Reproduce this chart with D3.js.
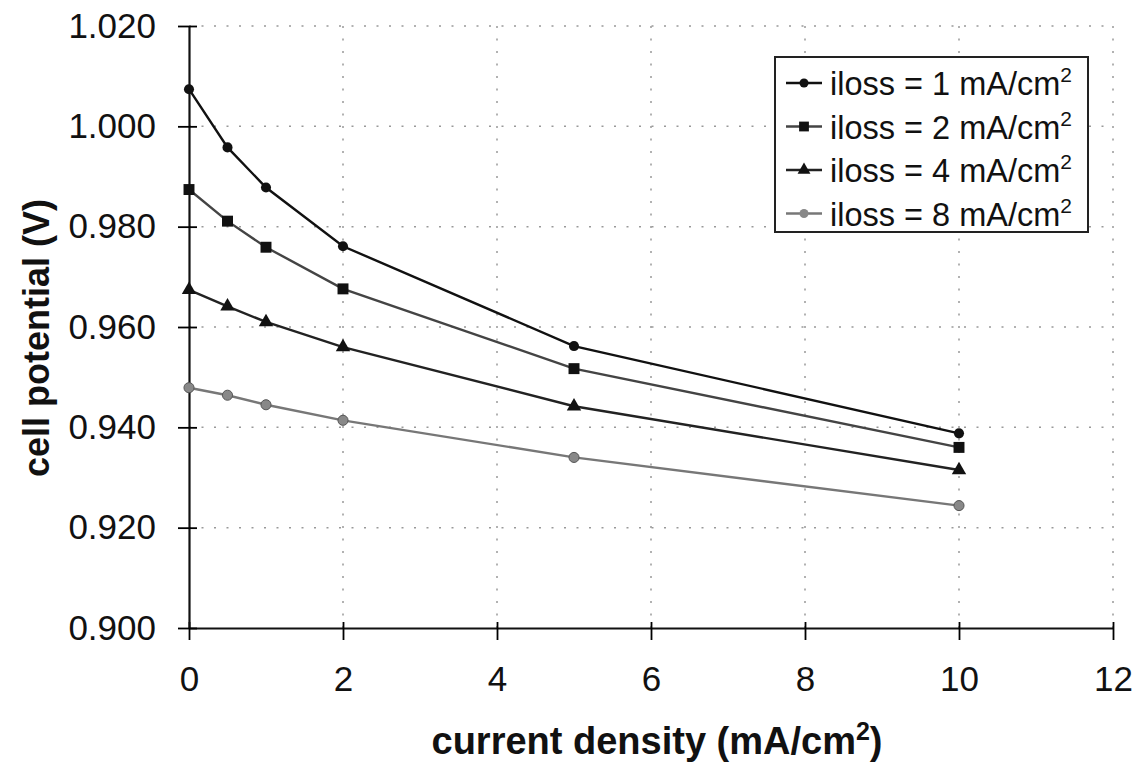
<!DOCTYPE html>
<html>
<head>
<meta charset="utf-8">
<script src="https://cdn.jsdelivr.net/npm/d3@7"></script>
<style>
  body { margin: 0; background: #fff; }
  text { font-family: "Liberation Sans", Arial, Helvetica, sans-serif; }
</style>
</head>
<body>
<div id="chart"></div>
<script>
// data
var xValues = [0, 0.5, 1, 2, 5, 10];
var iloss1 = [1.0074, 0.9958, 0.9878, 0.9761, 0.9562, 0.9388];
var iloss2 = [0.9874, 0.9811, 0.9759, 0.9676, 0.9517, 0.9360];
var iloss4 = [0.9674, 0.9641, 0.9610, 0.9560, 0.9442, 0.9315];
var iloss8 = [0.9479, 0.9464, 0.9445, 0.9414, 0.9340, 0.9244];
var seriesNames = ["iloss = 1 mA/cm", "iloss = 2 mA/cm", "iloss = 4 mA/cm", "iloss = 8 mA/cm"];
var xTicks = [0, 2, 4, 6, 8, 10, 12];
var yTicks = [0.900, 0.920, 0.940, 0.960, 0.980, 1.000, 1.020];

var W = 1141, H = 769;
var margin = {top: 26, right: 28, bottom: 141, left: 189};
var width = W - margin.left - margin.right,
    height = H - margin.top - margin.bottom;

var svg = d3.select("#chart")
  .append("svg")
    .attr("width", W)
    .attr("height", H)
  .append("g")
    .attr("transform", "translate(" + margin.left + "," + margin.top + ")");

var x = d3.scaleLinear().domain([0, 12]).range([0, width]);
var y = d3.scaleLinear().domain([0.9, 1.02]).range([height, 0]);

// dotted grid
svg.append("g")
  .selectAll("line.hg")
  .data(yTicks.slice(1))
  .enter().append("line")
    .attr("x1", 0).attr("x2", width)
    .attr("y1", function(d) { return y(d); })
    .attr("y2", function(d) { return y(d); })
    .attr("stroke", "#999")
    .attr("stroke-width", 1.5)
    .attr("stroke-dasharray", "2,10.5");

svg.append("g")
  .selectAll("line.vg")
  .data(xTicks.slice(1))
  .enter().append("line")
    .attr("y1", 0).attr("y2", height)
    .attr("x1", function(d) { return x(d); })
    .attr("x2", function(d) { return x(d); })
    .attr("stroke", "#999")
    .attr("stroke-width", 1.5)
    .attr("stroke-dasharray", "2,10.5");

// axes
var xAxis = svg.append("g")
  .attr("transform", "translate(0," + height + ")")
  .call(d3.axisBottom(x).tickValues(xTicks).tickFormat(d3.format("d"))
    .tickSizeInner(12).tickSizeOuter(0).tickPadding(26));
xAxis.selectAll(".tick line").attr("y1", -6).attr("stroke-width", 1.8);

var yAxis = svg.append("g")
  .call(d3.axisLeft(y).tickValues(yTicks).tickFormat(d3.format(".3f"))
    .tickSizeInner(11).tickSizeOuter(0).tickPadding(22));
yAxis.selectAll(".tick line").attr("x1", 8).attr("stroke-width", 1.8);

svg.selectAll(".domain").attr("stroke", "#111").attr("stroke-width", 2.2);
svg.selectAll(".tick text")
  .style("font-size", "35px")
  .attr("fill", "#111");

// series
var allSeries = [iloss1, iloss2, iloss4, iloss8];
var lineColors = ["#111", "#444", "#222", "#777"];
var markerColors = ["#111", "#111", "#111", "#888"];
var markerTypes = [d3.symbolCircle, d3.symbolSquare, d3.symbolTriangle, d3.symbolCircle];
var markerSizes = [80, 120, 90, 80];

var line = d3.line()
  .x(function(d, i) { return x(xValues[i]); })
  .y(function(d) { return y(d); });

allSeries.forEach(function(s, k) {
  svg.append("path")
    .datum(s)
    .attr("fill", "none")
    .attr("stroke", lineColors[k])
    .attr("stroke-width", 2.4)
    .attr("d", line);

  svg.selectAll("mk" + k)
    .data(s)
    .enter().append("path")
      .attr("transform", function(d, i) { return "translate(" + x(xValues[i]) + "," + y(d) + ")"; })
      .attr("d", d3.symbol().type(markerTypes[k]).size(markerSizes[k]))
      .attr("fill", markerColors[k])
      .attr("stroke", k == 3 ? "#555" : "none")
      .attr("stroke-width", 1);
});

// legend
var legend = svg.append("g")
  .attr("transform", "translate(" + (775 - margin.left) + "," + (57 - margin.top) + ")");

legend.append("rect")
  .attr("width", 313)
  .attr("height", 175)
  .attr("fill", "#fff")
  .attr("stroke", "#222")
  .attr("stroke-width", 2);

seriesNames.forEach(function(name, k) {
  var ly = 26 + k * 43.5;
  legend.append("line")
    .attr("x1", 11).attr("x2", 47)
    .attr("y1", ly).attr("y2", ly)
    .attr("stroke", lineColors[k])
    .attr("stroke-width", 2.4);
  legend.append("path")
    .attr("transform", "translate(29," + ly + ")")
    .attr("d", d3.symbol().type(markerTypes[k]).size(markerSizes[k] * 0.8))
    .attr("fill", markerColors[k]);
  var t = legend.append("text")
    .attr("x", 55)
    .attr("y", ly + 12)
    .style("font-size", "32.5px")
    .attr("fill", "#111")
    .text(name);
  t.append("tspan")
    .attr("dy", -13)
    .style("font-size", "21px")
    .text("2");
});

// axis titles
svg.append("text")
  .attr("transform", "translate(" + (width / 2 + 6) + "," + (height + 126) + ")")
  .style("text-anchor", "middle")
  .style("font-size", "38px")
  .style("font-weight", "bold")
  .attr("fill", "#111")
  .text("current density (mA/cm")
  .append("tspan").attr("dy", -14).style("font-size", "25px").text("2")
  .select(function() { return this.parentNode; })
  .append("tspan").attr("dy", 14).text(")");

svg.append("text")
  .attr("transform", "rotate(-90)")
  .attr("x", -(338 - margin.top))
  .attr("y", 49 - margin.left)
  .style("text-anchor", "middle")
  .style("font-size", "36px")
  .style("font-weight", "bold")
  .attr("fill", "#111")
  .text("cell potential (V)");
</script>
</body>
</html>
